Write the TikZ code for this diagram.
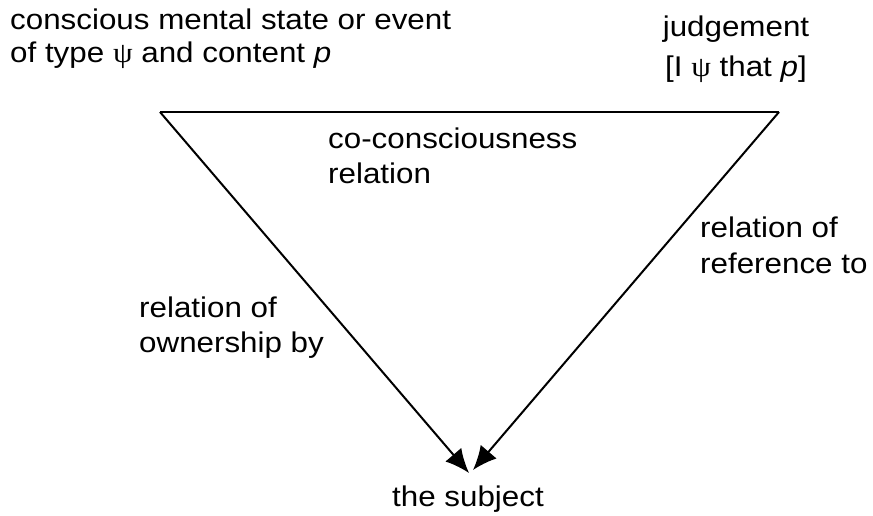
\documentclass[tikz,border=0pt]{standalone}
\usepackage{fontspec}
\setmainfont[FakeStretch=1.1]{Liberation Sans}
\newfontfamily\greekfont[FakeStretch=1.1]{Liberation Serif}
\usetikzlibrary{arrows.meta}
\begin{document}
\begin{tikzpicture}[x=1pt,y=-1pt,
  lbl/.style={font=\fontsize{28.5}{35}\selectfont, inner sep=0pt, align=left},
  edge/.style={line width=2pt},
  arr/.style={edge,-{Latex[length=24pt,width=21pt]}}]
\useasboundingbox (0,0) rectangle (873,516);
\coordinate (tl) at (160,112);
\coordinate (tr) at (779,112);
\coordinate (bl) at (469,473);
\coordinate (br) at (473,470);
% base anchor = baseline of the last line
\node[lbl, anchor=base west, font=\fontsize{28.5}{33}\selectfont] (cs) at (10,63) {conscious mental state or event\\of type {\greekfont ψ} and content \textit{p}};
\node[lbl, align=center, anchor=base, font=\fontsize{28.5}{40}\selectfont] (jd) at (736,77) {judgement\\{[}I {\greekfont ψ} that \textit{p}]};
\node[lbl, anchor=base west] (cc) at (328,183) {co-consciousness\\relation};
\node[lbl, anchor=base west, font=\fontsize{28.5}{36}\selectfont] (rr) at (700,273) {relation of\\reference to};
\node[lbl, anchor=base west] (ro) at (139,352) {relation of\\ownership by};
\node[lbl, anchor=base] (sb) at (468,506) {the subject};
\draw[edge] (tl) -- (tr);
\draw[arr] (tl) -- (bl);
\draw[arr] (tr) -- (br);
\end{tikzpicture}
\end{document}
